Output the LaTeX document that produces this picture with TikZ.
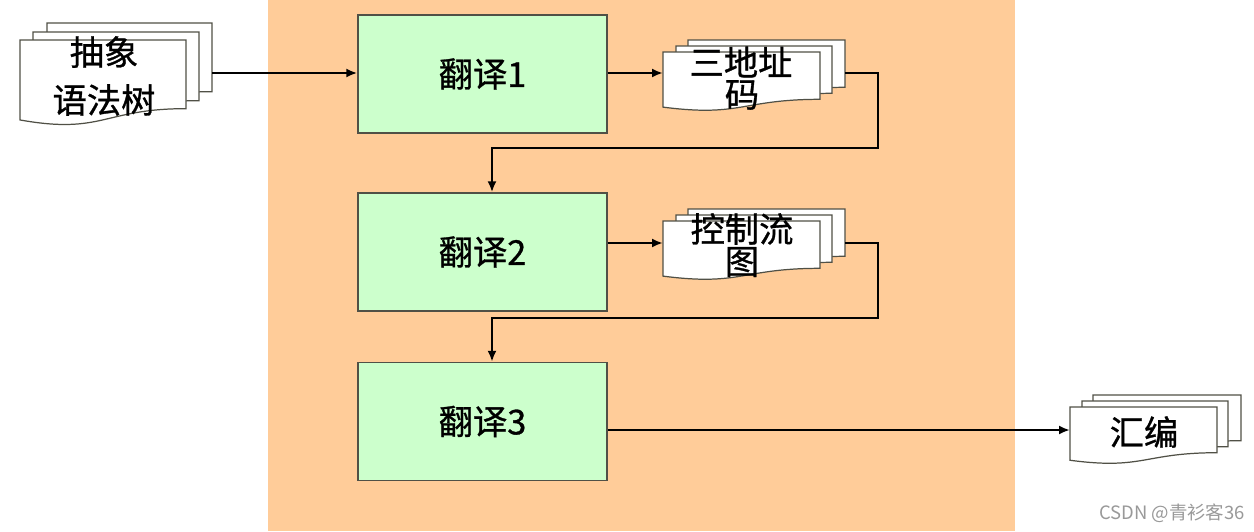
\documentclass[tikz,border=0pt]{standalone}
\usepackage{fontspec}
\setmainfont{Noto Sans CJK SC}
\newfontfamily\cjkmed{Noto Sans CJK SC}[FakeBold=0.9]
\usetikzlibrary{arrows.meta}
\definecolor{bgorange}{RGB}{255,204,153}
\definecolor{boxgreen}{RGB}{204,255,204}
\definecolor{edgegray}{RGB}{80,80,70}
\newcommand\docpage[4]{\draw[pagestyle] (#1,#2) -- ({#1+#3},#2) -- ({#1+#3},{#2+0.802*#4}) .. controls ({#1+0.5*#3},{#2+0.802*#4}) and ({#1+0.5*#3},{#2+1.107*#4}) .. (#1,{#2+0.934*#4}) -- cycle;}
\begin{document}
\begin{tikzpicture}[x=0.02cm,y=-0.02cm,
  pagestyle/.style={draw=edgegray, fill=white, line width=0.7pt},
  procbox/.style={draw=edgegray, fill=boxgreen, line width=0.8pt, minimum width=4.98cm, minimum height=2.36cm, inner sep=0pt, font=\cjkmed\fontsize{19.5}{22}\selectfont},
  doctext/.style={inner sep=0pt, font=\cjkmed\fontsize{19.5}{22}\selectfont},
  arr/.style={line width=1.4pt, -{Latex[length=0.22cm,width=0.18cm]}}]
\useasboundingbox (0,0) rectangle (1254,531);
\fill[white] (0,0) rectangle (1254,531);
\fill[bgorange] (268,0) rectangle (1015,531);

% document stack A
\docpage{47}{23}{165}{85.6}
\docpage{33}{32}{166}{85.6}
\docpage{20}{40}{166}{85.6}
\node[doctext] (a1) at (104,52) {抽象};
\node[doctext] (a2) at (104,100) {语法树};
\coordinate (Aout) at (212,73);

% document stack B
\docpage{688}{40}{157}{59}
\docpage{676}{46}{156}{59}
\docpage{663}{52}{157}{59}
\node[doctext] (b1) at (741,62) {三地址};
\node[doctext] (b2) at (742,95) {码};
\coordinate (Bin) at (663,73);
\coordinate (Bout) at (845,73);

% document stack C
\docpage{688}{209}{157}{59}
\docpage{676}{215}{156}{59}
\docpage{663}{221}{157}{59}
\node[doctext] (c1) at (742,229) {控制流};
\node[doctext] (c2) at (742,262) {图};
\coordinate (Cin) at (663,243);
\coordinate (Cout) at (845,243);

% document stack D
\docpage{1093}{395}{148}{57}
\docpage{1082}{401}{146}{57}
\docpage{1070}{407}{147}{57}
\node[doctext] (d1) at (1144,432) {汇编};
\coordinate (Din) at (1070,430);

% process boxes
\node[procbox] (t1) at (482.5,74) {翻译1};
\node[procbox] (t2) at (482.5,252) {翻译2};
\node[procbox] (t3) at (482.5,421.5) {翻译3};

% connectors
\draw[arr] (Aout) -- (Aout -| t1.west);
\draw[arr] (t1.east |- Bin) -- (Bin);
\draw[arr] (Bout) -- (878,73) -- (878,148) -- (492,148) -- (492,0 |- t2.north);
\draw[arr] (t2.east |- Cin) -- (Cin);
\draw[arr] (Cout) -- (878,243) -- (878,318) -- (492,318) -- (492,0 |- t3.north);
\draw[arr] (t3.east |- Din) -- (Din);

% watermark
\node[text=black!40, inner sep=0pt, font=\fontsize{10.5}{12}\selectfont] (wm) at (1172,513) {CSDN @青衫客36};
\end{tikzpicture}
\end{document}
